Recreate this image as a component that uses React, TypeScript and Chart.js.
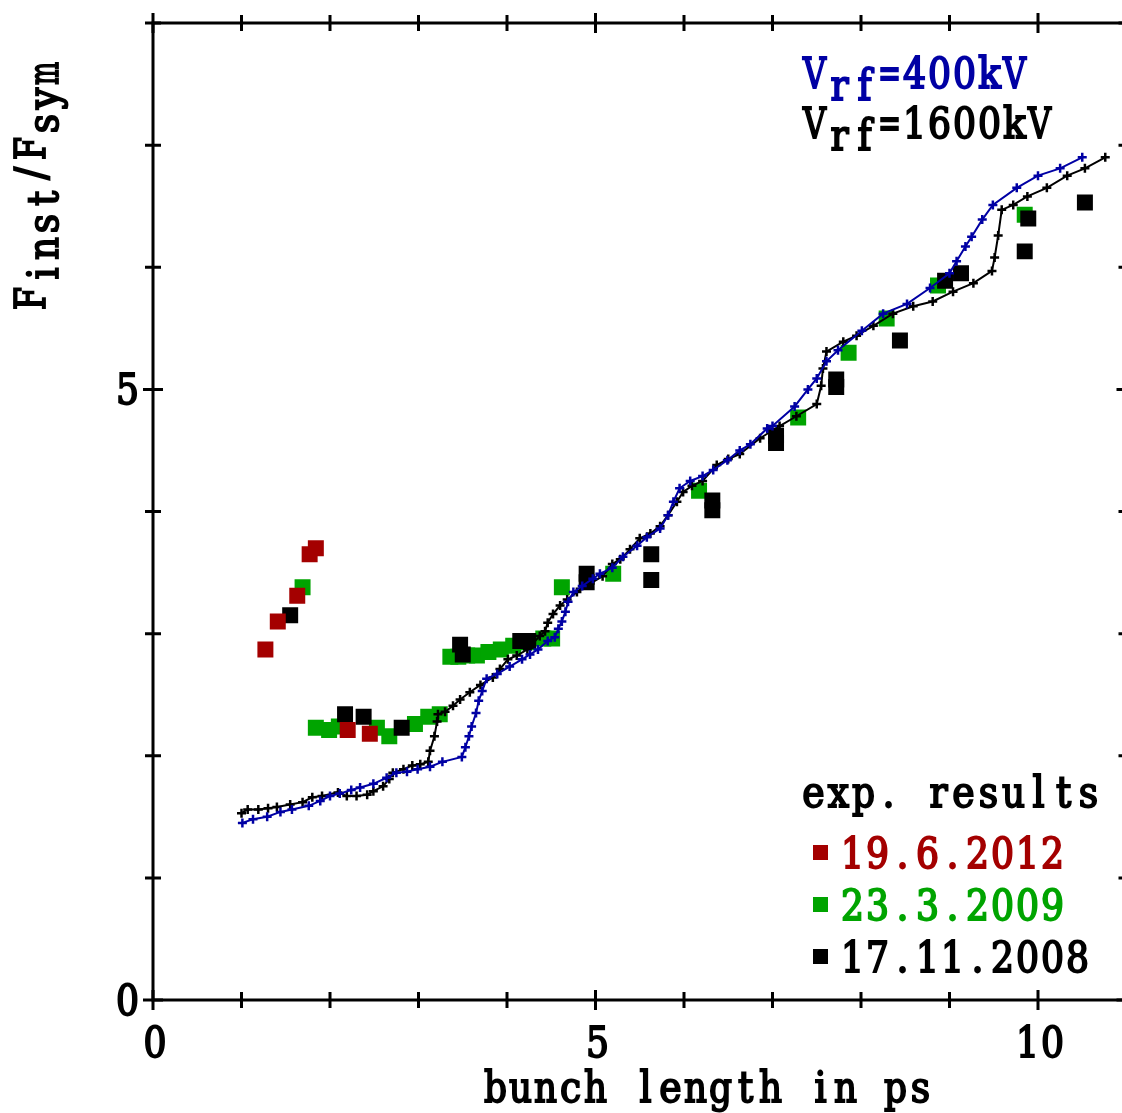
import React, { useEffect, useRef } from 'react';
import { Chart, registerables } from 'chart.js';

Chart.register(...registerables);

// ---- simulation curves ----
const V400_X = [1.01, 1.13, 1.29, 1.44, 1.57, 1.76, 1.89, 2.0, 2.11, 2.24, 2.34, 2.49, 2.64, 2.75, 2.87, 2.99, 3.13, 3.27, 3.49, 3.53, 3.57, 3.6, 3.65, 3.68, 3.72, 3.77, 3.89, 4.03, 4.17, 4.26, 4.35, 4.46, 4.54, 4.58, 4.62, 4.66, 4.69, 4.75, 4.85, 4.97, 5.05, 5.19, 5.31, 5.47, 5.58, 5.73, 5.82, 5.88, 5.95, 6.07, 6.21, 6.33, 6.49, 6.63, 6.75, 6.94, 7.0, 7.25, 7.4, 7.5, 7.61, 7.74, 8.01, 8.25, 8.52, 8.78, 9.0, 9.08, 9.18, 9.25, 9.37, 9.49, 9.76, 10.0, 10.25, 10.5];
const V400_Y = [1.45, 1.48, 1.5, 1.54, 1.56, 1.59, 1.63, 1.67, 1.69, 1.72, 1.74, 1.77, 1.82, 1.86, 1.87, 1.89, 1.91, 1.95, 1.99, 2.07, 2.16, 2.24, 2.35, 2.45, 2.53, 2.63, 2.67, 2.73, 2.79, 2.83, 2.87, 2.94, 2.97, 3.04, 3.1, 3.18, 3.26, 3.34, 3.39, 3.45, 3.49, 3.54, 3.63, 3.72, 3.79, 3.86, 3.97, 4.08, 4.19, 4.25, 4.29, 4.34, 4.42, 4.5, 4.55, 4.68, 4.7, 4.86, 5.0, 5.09, 5.23, 5.32, 5.48, 5.62, 5.7, 5.83, 5.95, 6.05, 6.17, 6.25, 6.39, 6.51, 6.65, 6.75, 6.81, 6.9];

const V1600_X = [1.0, 1.07, 1.19, 1.3, 1.4, 1.55, 1.69, 1.8, 1.91, 2.09, 2.19, 2.3, 2.42, 2.49, 2.6, 2.67, 2.71, 2.83, 2.93, 3.02, 3.11, 3.13, 3.18, 3.21, 3.22, 3.3, 3.39, 3.47, 3.58, 3.7, 3.84, 3.92, 4.01, 4.11, 4.23, 4.37, 4.43, 4.46, 4.52, 4.6, 4.68, 4.79, 4.94, 5.08, 5.19, 5.28, 5.39, 5.5, 5.62, 5.73, 5.82, 5.92, 5.99, 6.09, 6.21, 6.37, 6.5, 6.63, 6.86, 7.08, 7.27, 7.5, 7.55, 7.57, 7.61, 7.8, 7.95, 8.14, 8.36, 8.59, 8.81, 9.04, 9.27, 9.48, 9.51, 9.55, 9.59, 9.72, 9.88, 10.1, 10.33, 10.53, 10.76];
const V1600_Y = [1.53, 1.56, 1.56, 1.57, 1.58, 1.6, 1.62, 1.66, 1.67, 1.7, 1.67, 1.67, 1.68, 1.71, 1.75, 1.81, 1.86, 1.89, 1.92, 1.93, 1.95, 2.04, 2.16, 2.28, 2.34, 2.36, 2.41, 2.46, 2.52, 2.58, 2.64, 2.71, 2.79, 2.82, 2.87, 2.98, 3.02, 3.09, 3.16, 3.23, 3.28, 3.34, 3.41, 3.47, 3.57, 3.61, 3.69, 3.78, 3.82, 3.88, 3.97, 4.08, 4.16, 4.21, 4.25, 4.38, 4.43, 4.47, 4.6, 4.7, 4.78, 4.88, 5.03, 5.17, 5.31, 5.39, 5.44, 5.52, 5.62, 5.68, 5.72, 5.8, 5.87, 5.97, 6.08, 6.26, 6.47, 6.51, 6.58, 6.65, 6.75, 6.81, 6.9];

// ---- experimental results ----
const EXP2012_X = [1.27, 1.41, 1.63, 1.77, 1.84, 2.2, 2.45];
const EXP2012_Y = [2.87, 3.1, 3.31, 3.65, 3.7, 2.21, 2.18];

const EXP2009_X = [1.69, 1.84, 1.99, 2.1, 2.53, 2.67, 2.96, 3.11, 3.24, 3.36, 3.45, 3.55, 3.66, 3.79, 3.93, 4.07, 4.22, 4.41, 4.51, 4.62, 5.2, 6.17, 7.29, 7.86, 8.29, 8.87, 9.85];
const EXP2009_Y = [3.38, 2.23, 2.21, 2.24, 2.23, 2.16, 2.26, 2.32, 2.34, 2.81, 2.81, 2.82, 2.82, 2.85, 2.87, 2.9, 2.93, 2.96, 2.96, 3.38, 3.49, 4.17, 4.77, 5.3, 5.58, 5.85, 6.43];

const EXP2008_X = [1.55, 2.17, 2.38, 2.81, 3.47, 3.5, 4.15, 4.24, 4.9, 4.9, 5.63, 5.63, 6.32, 6.32, 7.04, 7.04, 7.72, 7.72, 8.44, 8.95, 9.13, 9.85, 9.89, 10.53];
const EXP2008_Y = [3.15, 2.34, 2.32, 2.23, 2.91, 2.83, 2.94, 2.94, 3.49, 3.42, 3.65, 3.44, 4.09, 4.01, 4.62, 4.56, 5.08, 5.02, 5.4, 5.89, 5.95, 6.13, 6.4, 6.53];

// ---- axes and texts ----
const X_MAJOR = [0, 5, 10];
const X_MAJOR_LABELS = ['0', '5', '10'];
const X_MINOR = [1, 2, 3, 4, 6, 7, 8, 9];
const Y_MAJOR = [0, 5];
const Y_MAJOR_LABELS = ['0', '5'];
const Y_MINOR = [1, 2, 3, 4, 6, 7, 8];
const X_TITLE = 'bunch length in ps';
const Y_TITLE = [
  { t: 'F', sub: false },
  { t: 'inst', sub: true },
  { t: '/', sub: false },
  { t: 'F', sub: false },
  { t: 'sym', sub: true },
];
const CURVE_LABELS = [
  [{ t: 'V', sub: false }, { t: 'rf', sub: true }, { t: '=400kV', sub: false }],
  [{ t: 'V', sub: false }, { t: 'rf', sub: true }, { t: '=1600kV', sub: false }],
];
const LEGEND_HEADER = 'exp. results';
const LEGEND_LABELS = ['19.6.2012', '23.3.2009', '17.11.2008'];

const RED = '#a40000';
const GREEN = '#00a400';
const BLUE = '#0000a4';
const BLACK = '#000000';
const LEGEND_COLORS = [RED, GREEN, BLACK];
const CURVE_COLORS = [BLUE, BLACK];

const CELL = 25;
const FONT = '42px "DejaVu Serif Condensed", "DejaVu Serif", serif';

type Seg = { t: string; sub: boolean };

// monospaced drawing: each character centred in a fixed cell, squeezed if too wide
function drawCells(ctx: CanvasRenderingContext2D, segs: Seg[], x: number, y: number, color: string, subOffset: number) {
  ctx.save();
  ctx.font = FONT;
  ctx.fillStyle = color;
  ctx.strokeStyle = color;
  ctx.lineWidth = 1.8;
  ctx.lineJoin = 'miter';
  ctx.textBaseline = 'alphabetic';
  ctx.textAlign = 'center';
  let i = 0;
  for (const s of segs) {
    for (const ch of s.t) {
      if (ch !== ' ') {
        const w = ctx.measureText(ch).width;
        const sx = w > CELL - 2 ? (CELL - 2) / w : 1;
        ctx.save();
        ctx.translate(x + i * CELL + CELL / 2, y + (s.sub ? subOffset : 0));
        ctx.scale(sx, 1);
        ctx.fillText(ch, 0, 0);
        ctx.strokeText(ch, 0, 0);
        ctx.restore();
      }
      i++;
    }
  }
  ctx.restore();
}

function drawText(ctx: CanvasRenderingContext2D, text: string, x: number, y: number, color: string, align: 'left' | 'center' | 'right' = 'left') {
  const n = text.length;
  let left = x;
  if (align === 'center') left = x - (n * CELL) / 2;
  if (align === 'right') left = x - n * CELL;
  drawCells(ctx, [{ t: text, sub: false }], left, y, color, 0);
}

const pts = (xs: number[], ys: number[]) => xs.map((x, i) => ({ x, y: ys[i] }));

export default function App() {
  const ref = useRef<HTMLCanvasElement>(null);

  useEffect(() => {
    document.body.style.margin = '0';
    const canvas = ref.current;
    if (!canvas) return;

    const axesPlugin = {
      id: 'customAxes',
      beforeDatasetsDraw(chart: any) {
        const ctx: CanvasRenderingContext2D = chart.ctx;
        const { left, right, top, bottom } = chart.chartArea;
        const xs = chart.scales.x;
        const ys = chart.scales.y;
        ctx.save();
        ctx.strokeStyle = BLACK;
        ctx.lineWidth = 3;
        ctx.lineCap = 'butt';
        ctx.beginPath();
        ctx.rect(left, top, right - left, bottom - top);
        ctx.stroke();
        const xtick = (vals: number[], len: number) => {
          for (const v of vals) {
            const px = xs.getPixelForValue(v);
            ctx.beginPath();
            ctx.moveTo(px, bottom - len);
            ctx.lineTo(px, bottom + len);
            ctx.moveTo(px, top - len);
            ctx.lineTo(px, top + len);
            ctx.stroke();
          }
        };
        const ytick = (vals: number[], len: number) => {
          for (const v of vals) {
            const py = ys.getPixelForValue(v);
            ctx.beginPath();
            ctx.moveTo(left - len, py);
            ctx.lineTo(left + len, py);
            ctx.moveTo(right - len, py);
            ctx.lineTo(right + len, py);
            ctx.stroke();
          }
        };
        xtick(X_MINOR, 8);
        xtick(X_MAJOR, 10);
        ytick(Y_MINOR, 8);
        ytick(Y_MAJOR, 10);
        ctx.restore();
      },
      afterDraw(chart: any) {
        const ctx: CanvasRenderingContext2D = chart.ctx;
        const { left, bottom } = chart.chartArea;
        const xs = chart.scales.x;
        const ys = chart.scales.y;
        // tick labels
        X_MAJOR.forEach((v, i) => {
          drawText(ctx, X_MAJOR_LABELS[i], xs.getPixelForValue(v) + 2, bottom + 57, BLACK, 'center');
        });
        Y_MAJOR.forEach((v, i) => {
          drawText(ctx, Y_MAJOR_LABELS[i], left - 13, ys.getPixelForValue(v) + 15, BLACK, 'right');
        });
        // x title
        drawText(ctx, X_TITLE, 483, 1102, BLACK, 'left');
        // y title (rotated)
        ctx.save();
        ctx.translate(45, 311);
        ctx.rotate(-Math.PI / 2);
        drawCells(ctx, Y_TITLE, 0, 0, BLACK, 13);
        ctx.restore();
        // curve labels
        CURVE_LABELS.forEach((segs, i) => {
          drawCells(ctx, segs, 802, 88 + i * 50, CURVE_COLORS[i], 12);
        });
        // experiment legend
        drawText(ctx, LEGEND_HEADER, 801, 807, BLACK, 'left');
        LEGEND_LABELS.forEach((lab, i) => {
          const by = 868 + i * 52;
          ctx.save();
          ctx.fillStyle = LEGEND_COLORS[i];
          ctx.fillRect(813, by - 23, 15, 15);
          ctx.restore();
          drawText(ctx, lab, 840, by, LEGEND_COLORS[i], 'left');
        });
      },
    };

    const lineDs = (label: string, data: any[], color: string) => ({
      label,
      data,
      showLine: true,
      borderColor: color,
      backgroundColor: color,
      borderWidth: 2,
      pointStyle: 'cross',
      pointRadius: 4.5,
      pointBorderWidth: 2.5,
      pointBorderColor: color,
      tension: 0,
      fill: false,
    });
    const sqDs = (label: string, data: any[], color: string) => ({
      label,
      data,
      showLine: false,
      pointStyle: 'rect',
      pointRadius: 11.3,
      pointBorderWidth: 0,
      borderWidth: 0,
      backgroundColor: color,
      borderColor: color,
    });

    const chart = new Chart(canvas, {
      type: 'scatter',
      data: {
        datasets: [
          lineDs('Vrf=400kV', pts(V400_X, V400_Y), BLUE),
          lineDs('Vrf=1600kV', pts(V1600_X, V1600_Y), BLACK),
          sqDs('19.6.2012', pts(EXP2012_X, EXP2012_Y), RED),
          sqDs('17.11.2008', pts(EXP2008_X, EXP2008_Y), BLACK),
          sqDs('23.3.2009', pts(EXP2009_X, EXP2009_Y), GREEN),
        ] as any,
      },
      options: {
        responsive: false,
        animation: false,
        devicePixelRatio: 1,
        layout: { padding: { left: 153, top: 23, right: 13.5, bottom: 113 } },
        scales: {
          x: { type: 'linear', min: 0, max: 11, display: false },
          y: { type: 'linear', min: 0, max: 8, display: false },
        },
        plugins: {
          legend: { display: false },
          tooltip: { enabled: false },
        },
      },
      plugins: [axesPlugin],
    });
    return () => chart.destroy();
  }, []);

  return (
    <div style={{ width: 1122, height: 1113, overflow: 'hidden', background: '#ffffff' }}>
      <canvas ref={ref} width={1140} height={1113} style={{ display: 'block', width: 1140, height: 1113 }} />
    </div>
  );
}
